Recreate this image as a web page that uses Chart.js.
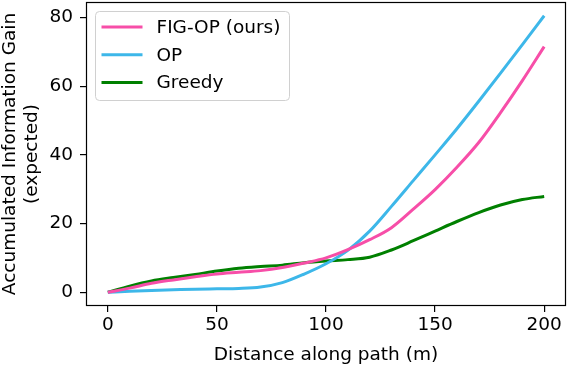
<!DOCTYPE html>
<html>
<head>
<meta charset="utf-8">
<script src="https://cdn.jsdelivr.net/npm/chart.js@4/dist/chart.umd.min.js"></script>
<style>
  html, body { margin: 0; padding: 0; background: #fff; }
  #wrap { width: 568px; height: 366px; }
</style>
</head>
<body>
<div id="wrap"><canvas id="c" width="568" height="366"></canvas></div>
<script>
// ---- data ----
const distance = [0, 10, 20, 30, 40, 50, 60, 70, 80, 90, 100, 110, 120, 130, 140, 150, 160, 170, 180, 190, 200];
const figOp    = [0, 1.2, 2.6, 3.6, 4.5, 5.3, 5.8, 6.3, 7.2, 8.5, 10.0, 12.4, 15.3, 18.8, 24.2, 29.9, 36.4, 43.6, 52.3, 61.6, 71.5];
const opVals   = [0, 0.3, 0.5, 0.7, 0.9, 1.0, 1.1, 1.5, 2.8, 5.3, 8.3, 12.2, 17.8, 25.0, 32.5, 40.0, 47.6, 55.6, 63.8, 72.1, 80.5];
const greedy   = [0, 1.8, 3.3, 4.3, 5.2, 6.2, 7.0, 7.5, 7.9, 8.6, 9.1, 9.5, 10.2, 12.3, 15.0, 17.8, 20.6, 23.2, 25.4, 27.0, 27.9];
const seriesLabels = ['FIG-OP (ours)', 'OP', 'Greedy'];
const xTicks = [0, 50, 100, 150, 200];
const yTicks = [0, 20, 40, 60, 80];

const colors = ['#f74ea8', '#3db7e9', '#008000'];
const FONT = 'DejaVu Sans';
Chart.defaults.font.family = FONT;
Chart.defaults.color = '#000';

const toPts = (ys) => distance.map((x, i) => ({ x: x, y: ys[i] }));

const frameAndLegend = {
  id: 'frameAndLegend',
  afterDraw(chart) {
    const ctx = chart.ctx;
    const a = chart.chartArea;
    ctx.save();
    // axes frame
    ctx.strokeStyle = '#000';
    ctx.lineWidth = 1.2;
    ctx.strokeRect(Math.round(a.left) + 0.5, Math.round(a.top) + 0.5,
                   Math.round(a.right - a.left) - 1, Math.round(a.bottom - a.top) - 1);
    // legend
    const lx = a.left + 9.5, ly = a.top + 9.5, lw = 194, lh = 89, r = 4;
    ctx.beginPath();
    ctx.moveTo(lx + r, ly);
    ctx.arcTo(lx + lw, ly, lx + lw, ly + lh, r);
    ctx.arcTo(lx + lw, ly + lh, lx, ly + lh, r);
    ctx.arcTo(lx, ly + lh, lx, ly, r);
    ctx.arcTo(lx, ly, lx + lw, ly, r);
    ctx.closePath();
    ctx.fillStyle = 'rgba(255,255,255,0.8)';
    ctx.fill();
    ctx.strokeStyle = '#d0d0d0';
    ctx.lineWidth = 1;
    ctx.stroke();
    ctx.font = '18.5px "' + FONT + '"';
    ctx.textBaseline = 'middle';
    ctx.textAlign = 'left';
    chart.data.datasets.forEach((ds, i) => {
      const y = ly + 15.5 + i * 27.8;
      ctx.beginPath();
      ctx.moveTo(lx + 6, y);
      ctx.lineTo(lx + 47, y);
      ctx.strokeStyle = ds.borderColor;
      ctx.lineWidth = 3;
      ctx.stroke();
      ctx.fillStyle = '#000';
      ctx.fillText(ds.label, lx + 61, y + 1);
    });
    ctx.restore();
  }
};

new Chart(document.getElementById('c'), {
  type: 'line',
  data: {
    datasets: [
      { label: seriesLabels[0], data: toPts(figOp), borderColor: colors[0] },
      { label: seriesLabels[1], data: toPts(opVals), borderColor: colors[1] },
      { label: seriesLabels[2], data: toPts(greedy), borderColor: colors[2] }
    ].map(d => Object.assign(d, {
      borderWidth: 3, pointRadius: 0, fill: false,
      cubicInterpolationMode: 'monotone', backgroundColor: d.borderColor
    }))
  },
  options: {
    responsive: false,
    animation: false,
    devicePixelRatio: 1,
    layout: { padding: { top: 2, right: 2, left: 0, bottom: 0 } },
    plugins: { legend: { display: false }, tooltip: { enabled: false } },
    scales: {
      x: {
        type: 'linear',
        min: -10, max: 210,
        afterBuildTicks: (s) => { s.ticks = xTicks.map(v => ({ value: v })); },
        afterFit: (s) => { s.height = 60; s.paddingLeft = 0; s.paddingRight = 0; },
        grid: { drawOnChartArea: false, drawTicks: true, tickLength: 6, color: '#000', lineWidth: 1.2 },
        border: { display: false },
        ticks: { font: { size: 18.5 }, color: '#000', padding: 2, maxRotation: 0 },
        title: { display: true, text: 'Distance along path (m)', font: { size: 18.5 }, color: '#000', padding: { top: 0, bottom: 0 } }
      },
      y: {
        type: 'linear',
        min: -4, max: 84.5,
        afterBuildTicks: (s) => { s.ticks = yTicks.map(v => ({ value: v })); },
        afterFit: (s) => { s.width = 86; s.paddingTop = 0; s.paddingBottom = 0; },
        grid: { drawOnChartArea: false, drawTicks: true, tickLength: 6, color: '#000', lineWidth: 1.2 },
        border: { display: false },
        ticks: { font: { size: 18.5 }, color: '#000', padding: 7 },
        title: { display: true, text: ['Accumulated Information Gain', '(expected)'], font: { size: 18.5, lineHeight: 1.15 }, color: '#000', padding: { top: 0, bottom: 0 } }
      }
    }
  },
  plugins: [frameAndLegend]
});
</script>
</body>
</html>
